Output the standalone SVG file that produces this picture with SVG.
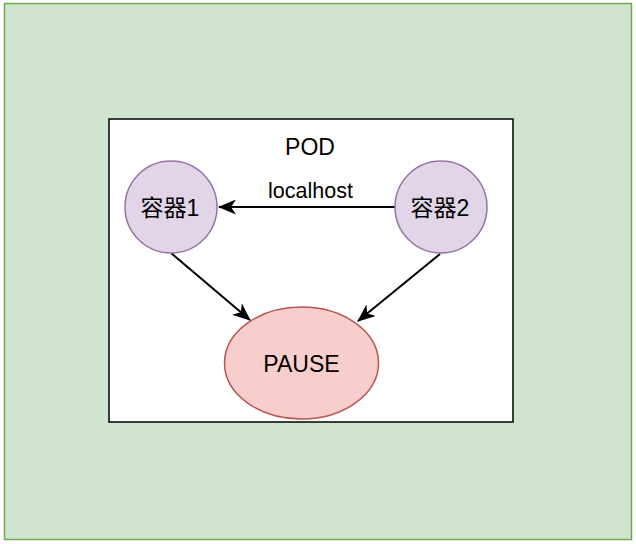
<svg xmlns="http://www.w3.org/2000/svg" width="636" height="544" viewBox="0 0 636 544">
<style>
text{font-family:"Liberation Sans",Arial,"Noto Sans CJK SC",sans-serif;fill:#000;text-anchor:middle}
.c{fill:#e1d5e7;stroke:#9673a6;stroke-width:1.5}
.e{stroke:#000;stroke-width:2;fill:none;marker-end:url(#ah)}
</style>
<defs>
<marker id="ah" viewBox="0 0 18 15" refX="17" refY="7.5" markerWidth="18" markerHeight="15" markerUnits="userSpaceOnUse" orient="auto">
<path d="M0,0 L18,7.5 L0,15 L5,7.5 Z" fill="#000"/>
</marker>
</defs>
<g id="outer"><rect x="4.5" y="3.5" width="627" height="536" fill="#d0e4cf" stroke="#6ea84f" stroke-width="1.5"/></g>
<g id="pod"><rect x="109" y="119" width="404" height="303" fill="#fff" stroke="#000" stroke-width="1.5"/>
<text x="310" y="155" font-size="23">POD</text></g>
<g id="connectors">
<path class="e" d="M395,207 L219,207"/>
<text x="310.5" y="198" font-size="21.5">localhost</text>
<path class="e" d="M171,253 L250,320"/>
<path class="e" d="M440,254 L358,321"/>
</g>
<g id="c1"><circle class="c" cx="171" cy="207" r="46"/><text x="170" y="216" font-size="23">容器1</text></g>
<g id="c2"><circle class="c" cx="441" cy="207" r="46"/><text x="440" y="216" font-size="23">容器2</text></g>
<g id="pause"><ellipse cx="301.5" cy="363" rx="77" ry="56" fill="#f8cecc" stroke="#b85450" stroke-width="1.5"/><text x="301.5" y="371.5" font-size="23">PAUSE</text></g>
</svg>
